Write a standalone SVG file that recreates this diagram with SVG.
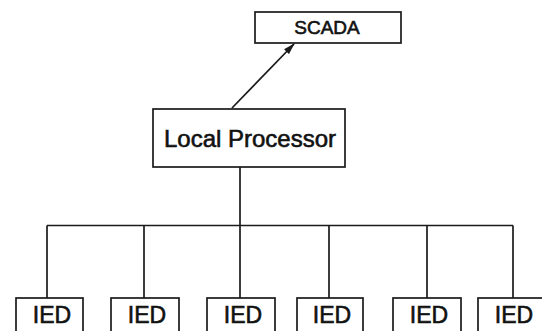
<svg xmlns="http://www.w3.org/2000/svg" width="542" height="331" viewBox="0 0 542 331">
  <style>
    .box { fill: #fff; stroke: #1a1a1a; stroke-width: 1.7; }
    .wire { fill: none; stroke: #1a1a1a; stroke-width: 1.7; }
    .lbl { font-family: "Liberation Sans", Arial, sans-serif; fill: #111; stroke: #111; stroke-width: 0.6; text-anchor: middle; }
  </style>
  <defs>
    <marker id="arrow" viewBox="0 0 12 8" refX="11" refY="4" markerWidth="7" markerHeight="4.6" markerUnits="strokeWidth" orient="auto">
      <path d="M0,0.5 L12,4 L0,7.5 z" fill="#1a1a1a"/>
    </marker>
  </defs>
  <rect width="542" height="331" fill="#fff"/>

  <g id="connectors">
    <line class="wire" x1="232" y1="108" x2="294" y2="44" marker-end="url(#arrow)"/>
    <line class="wire" x1="240" y1="167" x2="240" y2="225.5"/>
    <line class="wire" x1="47" y1="225.5" x2="513" y2="225.5"/>
    <line class="wire" x1="47" y1="225.5" x2="47" y2="298"/>
    <line class="wire" x1="144" y1="225.5" x2="144" y2="298"/>
    <line class="wire" x1="240" y1="225.5" x2="240" y2="298"/>
    <line class="wire" x1="329" y1="225.5" x2="329" y2="298"/>
    <line class="wire" x1="427" y1="225.5" x2="427" y2="298"/>
    <line class="wire" x1="513" y1="225.5" x2="513" y2="298"/>
  </g>

  <g id="scada">
    <rect class="box" x="255" y="12" width="146" height="31"/>
    <text class="lbl" x="327" y="34" font-size="19">SCADA</text>
  </g>

  <g id="local-processor">
    <rect class="box" x="153" y="109" width="192" height="58"/>
    <text class="lbl" x="250" y="147" font-size="24">Local Processor</text>
  </g>

  <g id="ied-1">
    <rect class="box" x="16" y="298" width="67" height="45"/>
    <text class="lbl" x="52" y="323" font-size="23">IED</text>
  </g>
  <g id="ied-2">
    <rect class="box" x="111" y="298" width="68" height="45"/>
    <text class="lbl" x="147" y="323" font-size="23">IED</text>
  </g>
  <g id="ied-3">
    <rect class="box" x="207" y="298" width="68" height="45"/>
    <text class="lbl" x="243" y="323" font-size="23">IED</text>
  </g>
  <g id="ied-4">
    <rect class="box" x="297" y="298" width="66" height="45"/>
    <text class="lbl" x="332" y="323" font-size="23">IED</text>
  </g>
  <g id="ied-5">
    <rect class="box" x="393" y="298" width="68" height="45"/>
    <text class="lbl" x="429" y="323" font-size="23">IED</text>
  </g>
  <g id="ied-6">
    <rect class="box" x="478" y="298" width="68" height="45"/>
    <text class="lbl" x="514" y="323" font-size="23">IED</text>
  </g>
</svg>
